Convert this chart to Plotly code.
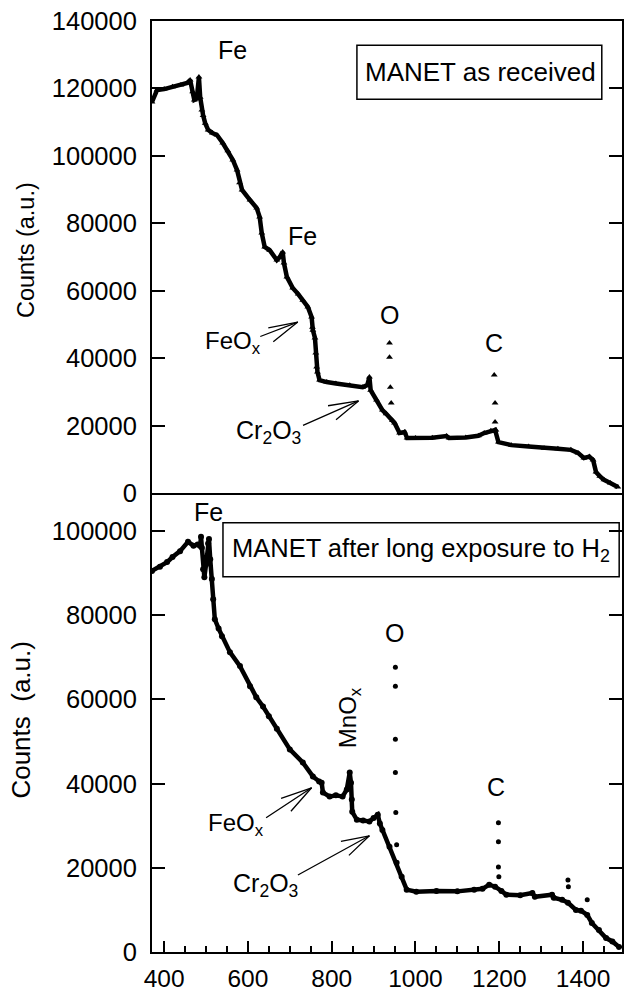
import plotly.graph_objects as go

# ---------------- data ----------------
# Top panel: MANET as received (main curve)
top_x = [371, 383, 400, 420, 440, 455, 462, 468, 472, 478, 483, 486, 490, 493, 498, 505,
         515, 526, 540, 552, 564, 574, 580, 586, 605, 621, 628, 633, 640, 652, 669, 676,
         683, 686, 693, 707, 720, 731, 743, 752, 754, 755, 760, 762, 764, 766, 771, 788,
         810, 843, 874, 885, 890, 893, 907, 921, 930, 945, 950, 962, 974, 980, 1000, 1040,
         1074, 1080, 1120, 1150, 1164, 1180, 1190, 1198, 1229, 1270, 1307, 1340, 1371, 1388,
         1402, 1415, 1424, 1431, 1440, 1450, 1465, 1483]
top_y = [116000, 119500, 119800, 120500, 121000, 121600, 122500, 119000, 116600, 117000,
         123400, 117400, 113600, 112000, 109700, 107700, 106800, 106200, 103800, 101500,
         98800, 95800, 92000, 89900, 86900, 84500, 81900, 77100, 73000, 72000, 69100, 70000,
         71500, 68200, 64100, 60800, 59000, 57200, 55200, 52200, 49200, 48300, 46000, 41500,
         37400, 35900, 33500, 32900, 32500, 32000, 31400, 32000, 34400, 30500, 27600, 24600,
         23500, 21500, 20800, 17800, 18100, 16300, 16300, 16400, 16900, 16300, 16500, 17000,
         17800, 18500, 18700, 15100, 14200, 13800, 13300, 13100, 12800, 11900, 10400, 10800,
         9800, 6200, 5000, 3900, 3000, 1800]
# Top panel sparse peak points (O and C)
top_peak_x = [938, 938, 940, 942, 1188, 1190, 1190, 1192]
top_peak_y = [44500, 40300, 31400, 26700, 35000, 26700, 21100, 18700]

# Bottom panel: MANET after long exposure to H2 (main curve)
bot_x = [371, 390, 407, 420, 438, 457, 470, 480, 486, 488, 490, 493, 496, 500, 505, 507,
         510, 514, 517, 521, 530, 538, 557, 581, 605, 620, 636, 650, 669, 700, 731, 755,
         770, 776, 779, 795, 810, 826, 836, 843, 846, 848, 849, 860, 875, 890, 900, 910,
         915, 921, 938, 955, 967, 979, 1002, 1050, 1100, 1140, 1160, 1176, 1190, 1205,
         1217, 1250, 1279, 1285, 1326, 1330, 1350, 1364, 1383, 1395, 1410, 1421, 1438,
         1455, 1470, 1486]
bot_y = [90500, 91500, 92600, 93800, 95200, 97400, 96500, 96800, 96400, 98600, 96000,
         90900, 89000, 92000, 97000, 98100, 93300, 88600, 83800, 79000, 76800, 75000, 71200,
         67900, 63100, 60500, 58300, 56000, 53000, 48100, 45000, 41700, 40500, 40200, 37900,
         36900, 37200, 36900, 38600, 42600, 40200, 36200, 33300, 31400, 31200, 31000, 31800,
         32600, 30500, 29000, 25000, 21200, 17900, 14800, 14300, 14500, 14400, 14800, 15000,
         16000, 15500, 14500, 13600, 13500, 14000, 13100, 13600, 12900, 12400, 11700, 10000,
         9800, 8800, 6900, 5200, 3300, 2500, 1200]
# Bottom panel sparse peak points (O, C and small features)
bot_peak_x = [952, 952, 952, 952, 953, 955, 1198, 1198, 1198, 1199, 1364, 1365, 1410]
bot_peak_y = [67600, 63100, 50500, 42600, 33100, 25500, 30700, 26200, 20200, 17900,
              17100, 15500, 12400]

x_ticks = [400, 600, 800, 1000, 1200, 1400]
top_y_ticks = [0, 20000, 40000, 60000, 80000, 100000, 120000, 140000]
bot_y_ticks = [0, 20000, 40000, 60000, 80000, 100000]

# ---------------- figure ----------------
FONT = "Liberation Sans, Arial, Helvetica, sans-serif"
fig = go.Figure()

fig.add_trace(go.Scatter(x=top_x, y=top_y, xaxis="x2", yaxis="y2", mode="lines+markers",
                         line=dict(color="black", width=4.5),
                         marker=dict(symbol="triangle-up", size=6, color="black"),
                         showlegend=False, hoverinfo="skip"))
fig.add_trace(go.Scatter(x=top_peak_x, y=top_peak_y, xaxis="x2", yaxis="y2", mode="markers",
                         marker=dict(symbol="triangle-up", size=6, color="black"),
                         showlegend=False, hoverinfo="skip"))
fig.add_trace(go.Scatter(x=bot_x, y=bot_y, xaxis="x", yaxis="y", mode="lines+markers",
                         line=dict(color="black", width=4.5),
                         marker=dict(symbol="circle", size=6, color="black"),
                         showlegend=False, hoverinfo="skip"))
fig.add_trace(go.Scatter(x=bot_peak_x, y=bot_peak_y, xaxis="x", yaxis="y", mode="markers",
                         marker=dict(symbol="circle", size=5, color="black"),
                         showlegend=False, hoverinfo="skip"))

SPLIT = 0.493
common_y = dict(ticks="inside", ticklen=13, tickwidth=2, tickcolor="black",
                showline=True, linecolor="black", linewidth=2, mirror="ticks",
                showgrid=False, zeroline=False, ticklabelstandoff=8, tickformat="d",
                automargin=False,
                tickfont=dict(family=FONT, size=25.5, color="black"))

fig.update_layout(
    width=624, height=996,
    margin=dict(l=152, r=2, t=21, b=44),
    paper_bgcolor="white", plot_bgcolor="white",
    font=dict(family=FONT, color="black"),
    xaxis=dict(domain=[0, 1], anchor="y", range=[371, 1493],
               tickvals=x_ticks, ticks="inside", ticklen=11, tickwidth=2, tickcolor="black",
               minor=dict(dtick=50, ticks="inside", ticklen=6, tickwidth=1.5, tickcolor="black"),
               showline=True, linecolor="black", linewidth=2, mirror=False,
               showgrid=False, zeroline=False, ticklabelstandoff=4, automargin=False,
               tickfont=dict(family=FONT, size=24.5, color="black")),
    xaxis2=dict(domain=[0, 1], anchor="y2", matches="x", showticklabels=False, ticks="",
                showline=True, linecolor="black", linewidth=2, mirror=True,
                showgrid=False, zeroline=False, automargin=False),
    yaxis=dict(domain=[0, SPLIT], anchor="x", range=[0, 109000], tickvals=bot_y_ticks,
               **common_y),
    yaxis2=dict(domain=[SPLIT, 1], anchor="x2", range=[0, 140000], tickvals=top_y_ticks,
                **common_y),
)

ann = []


def label(text, x, y, xr, yr, size=25, angle=0):
    ann.append(dict(text=text, x=x, y=y, xref=xr, yref=yr, showarrow=False,
                    font=dict(family=FONT, size=size, color="black"), textangle=angle,
                    xanchor="center", yanchor="middle"))


def arrow(x, y, xr, yr, offsets):
    for ax, ay in offsets:
        ann.append(dict(text="", x=x, y=y, xref=xr, yref=yr, ax=ax, ay=ay,
                        showarrow=True, arrowhead=0, arrowwidth=1.3, arrowcolor="black",
                        standoff=0, startstandoff=0))


# top panel labels
label("Fe", 564, 131400, "x2", "y2")
label("Fe", 731, 76200, "x2", "y2")
label("O", 938, 52800, "x2", "y2")
label("C", 1188, 44500, "x2", "y2")
label("FeO<sub>x</sub>", 564, 44500, "x2", "y2", size=24)
label("Cr<sub>2</sub>O<sub>3</sub>", 650, 18100, "x2", "y2", size=25)
arrow(719, 50700, "x2", "y2", [(-39, 15), (-31, 6), (-26, 21)])
arrow(864, 27300, "x2", "y2", [(-57, 25), (-32, 5), (-24, 20)])
label("MANET as received", 0.698, 0.945, "paper", "paper", size=26)

# bottom panel labels
label("Fe", 505, 104500, "x", "y")
label("O", 950, 75700, "x", "y")
label("C", 1193, 39300, "x", "y")
label("MnO<sub>x</sub>", 843, 55700, "x", "y", size=24, angle=-90)
label("FeO<sub>x</sub>", 571, 30200, "x", "y", size=24)
label("Cr<sub>2</sub>O<sub>3</sub>", 643, 16000, "x", "y", size=25)
arrow(752, 39000, "x", "y", [(-47, 31), (-32, 11), (-22, 25)])
arrow(890, 27600, "x", "y", [(-73, 40), (-30, 6), (-22, 21)])
label("MANET after long exposure to H<sub>2</sub>", 0.572, 0.432, "paper", "paper", size=25.5)

# y-axis titles
ann.append(dict(text="Counts (a.u.)", x=-0.268, y=0.754, xref="paper", yref="paper",
                showarrow=False, textangle=-90, xanchor="center", yanchor="middle",
                font=dict(family=FONT, size=23.5, color="black")))
ann.append(dict(text="Counts\u00a0 (a.u.)", x=-0.278, y=0.25, xref="paper", yref="paper",
                showarrow=False, textangle=-90, xanchor="center", yanchor="middle",
                font=dict(family=FONT, size=26, color="black")))

# frames around the two panel captions
box = dict(type="rect", xref="paper", yref="paper", line=dict(color="black", width=1.5),
           fillcolor="white", layer="below")
shapes = [dict(box, x0=0.436, x1=0.957, y0=0.916, y1=0.974),
          dict(box, x0=0.151, x1=0.994, y0=0.403, y1=0.461)]

fig.update_layout(annotations=ann, shapes=shapes)
fig.write_html("out.html", config={"displayModeBar": False},
               post_script="document.body.style.margin='0';")
